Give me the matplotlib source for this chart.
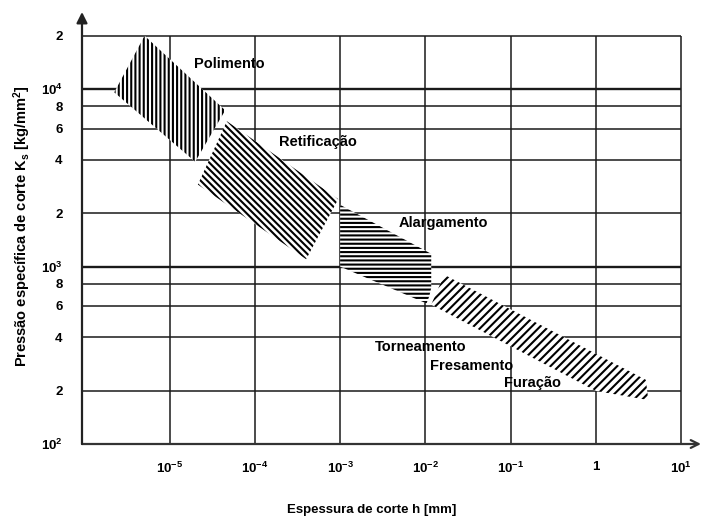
import matplotlib
matplotlib.use("Agg")
import matplotlib.pyplot as plt
from matplotlib.patches import Polygon

plt.rcParams['font.family'] = ['Liberation Sans', 'DejaVu Sans']
plt.rcParams['mathtext.fontset'] = 'custom'
plt.rcParams['mathtext.rm'] = 'Liberation Sans:bold'
plt.rcParams['mathtext.bf'] = 'Liberation Sans:bold'
plt.rcParams['mathtext.it'] = 'Liberation Sans:bold'
plt.rcParams['axes.unicode_minus'] = False
plt.rcParams['hatch.linewidth'] = 1.5
plt.rcParams['hatch.color'] = 'black'

# Data: regions (h [mm], Ks [kg/mm2])
polimento_h = [2.25e-6, 5.1e-6, 4.5e-5, 2.0e-5]
polimento_ks = [9.6e3, 2.0e4, 7.6e3, 3.9e3]

retificacao_h = [4.7e-5, 9.5e-4, 4.0e-4, 2.15e-5]
retificacao_ks = [6.6e3, 2.4e3, 1.1e3, 2.9e3]

alargamento_h = [1.0e-3, 1.17e-2, 1.17e-2, 1.11e-2, 1.03e-2, 1.0e-3]
alargamento_ks = [2.23e3, 1.18e3, 7.6e2, 6.8e2, 6.2e2, 1.0e3]

torneamento_h = [1.66e-2, 3.84, 4.1, 1.0, 1.17e-2]
torneamento_ks = [9.0e2, 2.3e2, 1.77e2, 1.99e2, 6.1e2]

x_ticks = [1e-5, 1e-4, 1e-3, 1e-2, 1e-1, 1, 10]
x_labels = ['$10^{-5}$', '$10^{-4}$', '$10^{-3}$', '$10^{-2}$', '$10^{-1}$', '1', '$10^{1}$']
y_ticks = [1e2, 2e2, 4e2, 6e2, 8e2, 1e3, 2e3, 4e3, 6e3, 8e3, 1e4, 2e4]
y_labels = ['$10^{2}$', '2', '4', '6', '8', '$10^{3}$', '2', '4', '6', '8', '$10^{4}$', '2']

W, H = 702, 523
fig = plt.figure(figsize=(W / 100, H / 100), dpi=100)
ax = fig.add_axes([82 / W, 79 / H, 619 / W, 432 / H])
ax.set_xscale('log')
ax.set_yscale('log')
xmin, xmax = 10 ** -6.026, 10 ** 1.231
ymin, ymax = 1e2, 10 ** 4.435
ax.set_xlim(xmin, xmax)
ax.set_ylim(ymin, ymax)

for s in ax.spines.values():
    s.set_visible(False)

# grid
for y in y_ticks[1:]:
    lw = 1.7 if y in (1e3, 1e4) else 1.1
    ax.hlines(y, xmin, 10, colors='#1a1a1a', lw=lw, zorder=1)
ax.vlines(x_ticks, ymin, 2e4, colors='#1a1a1a', lw=1.1, zorder=1)

# axes with arrows
ax.annotate('', xy=(1, 0), xytext=(0, 0), xycoords='axes fraction',
            arrowprops=dict(arrowstyle='->', color='#333333', lw=1.6,
                            mutation_scale=14, shrinkA=0, shrinkB=0), zorder=5)
ax.annotate('', xy=(0, 1), xytext=(0, 0), xycoords='axes fraction',
            arrowprops=dict(arrowstyle='-|>', color='#222222', lw=1.6,
                            mutation_scale=16, shrinkA=0, shrinkB=0), zorder=5)

regions = [
    (polimento_h, polimento_ks, '||||'),
    (retificacao_h, retificacao_ks, '\\' * 5),
    (alargamento_h, alargamento_ks, '----'),
    (torneamento_h, torneamento_ks, '/' * 4),
]
for hs, ks, hatch in regions:
    poly = Polygon(list(zip(hs, ks)), closed=True, facecolor='white',
                   edgecolor='black', hatch=hatch, lw=0, zorder=3)
    ax.add_patch(poly)

ax.set_xticks(x_ticks)
ax.set_xticklabels(x_labels, fontsize=9.5, fontweight='bold')
ax.set_yticks(y_ticks)
ax.set_yticklabels(y_labels, fontsize=9.5, fontweight='bold')
ax.minorticks_off()
ax.tick_params(axis='both', length=0)
ax.tick_params(axis='x', pad=12)
ax.tick_params(axis='y', pad=14)


def fx(px, py):
    return px / W, 1 - py / H


labels = [
    ('Polimento', 194, 64),
    ('Retificação', 279, 142),
    ('Alargamento', 399, 223),
    ('Torneamento', 375, 347),
    ('Fresamento', 430, 366),
    ('Furação', 504, 383),
]
for txt, px, py in labels:
    x, y = fx(px, py)
    fig.text(x, y, txt, fontsize=10.5, fontweight='bold', ha='left', va='center', zorder=6)

x, y = fx(372, 510)
fig.text(x, y, 'Espessura de corte h [mm]', fontsize=9.5, fontweight='bold',
         ha='center', va='center')
x, y = fx(22, 226)
fig.text(x, y, 'Pressão específica de corte K$_s$ [kg/mm$^2$]', fontsize=10.5,
         fontweight='bold', ha='center', va='center', rotation=90)

fig.savefig('out.png', dpi=100)
